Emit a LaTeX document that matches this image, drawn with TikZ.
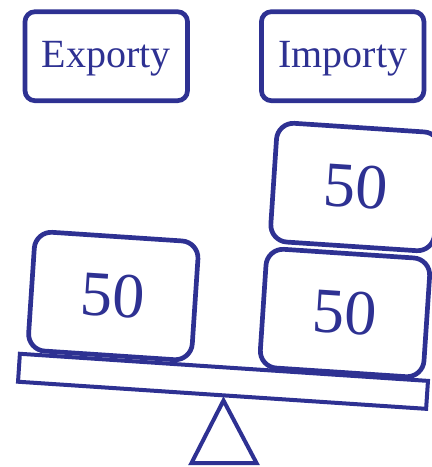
\documentclass[tikz,border=0pt]{standalone}
\usepackage{fontspec}
\setmainfont{Liberation Serif}
\definecolor{ink}{RGB}{46,49,146}
\begin{document}
\begin{tikzpicture}[x=1pt,y=-1pt,
  lbl/.style={draw=ink, line width=4.7pt, rounded corners=10pt, inner sep=0pt,
    text=ink, font=\fontsize{40}{40}\selectfont, minimum width=162.5pt,
    minimum height=89pt, text height=27pt, text depth=4pt},
  wbox/.style={draw=ink, line width=4.7pt, rounded corners=17pt, inner sep=0pt,
    text=ink, font=\fontsize{64}{64}\selectfont, minimum width=164pt,
    minimum height=119pt, rotate=-3.8},
  beam/.style={draw=ink, line width=4pt, inner sep=0pt, minimum width=409pt,
    minimum height=28pt, rotate=-3.8},
  pivot/.style={draw=ink, line width=4pt, line join=miter}]
\useasboundingbox (0,0) rectangle (432,467);
\clip (0,0) rectangle (432,467);
\node[lbl] (exp) at (106.25,56.2) {Exporty};
\node[lbl] (imp) at (342.7,56.2) {Importy};
\node[beam] (bar) at (223,381.3) {};
\node[wbox] (left) at (113.3,296) {50};
\node[wbox] (rup) at (355.5,187) {50};
\node[wbox] (rlow) at (345,313) {50};
\draw[pivot] (223.5,400.5) -- (256.5,463) -- (191.5,463) -- cycle;
\end{tikzpicture}
\end{document}
